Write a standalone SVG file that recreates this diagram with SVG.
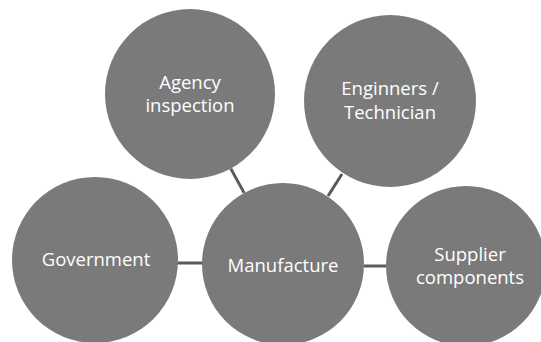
<svg xmlns="http://www.w3.org/2000/svg" width="541" height="342" viewBox="0 0 541 342">
<style>
.n{fill:#7a7a7a}
.t{fill:#ffffff;font-family:"Open Sans","Liberation Sans",sans-serif;font-size:18.5px;text-anchor:middle}
.c{stroke:#5a5a5a;stroke-width:3;fill:none}
</style>
<rect width="541" height="342" fill="#ffffff"/>
<g id="connectors">
<line class="c" x1="230.8" y1="168.6" x2="244.1" y2="192.9"/>
<line class="c" x1="342" y1="174" x2="328" y2="196"/>
<line class="c" x1="177" y1="263" x2="203" y2="263"/>
<line class="c" x1="364" y1="266" x2="388" y2="266"/>
</g>
<g id="agency">
<circle class="n" cx="190" cy="94" r="85"/>
<text class="t" x="190" y="89">Agency</text>
<text class="t" x="190" y="112">inspection</text>
</g>
<g id="engineers">
<circle class="n" cx="390" cy="101" r="86"/>
<text class="t" x="390" y="95">Enginners /</text>
<text class="t" x="390" y="119">Technician</text>
</g>
<g id="government">
<circle class="n" cx="95" cy="260" r="83"/>
<text class="t" x="96" y="266">Government</text>
</g>
<g id="manufacture">
<circle class="n" cx="283" cy="264" r="81"/>
<text class="t" x="283" y="272">Manufacture</text>
</g>
<g id="supplier">
<circle class="n" cx="466" cy="266" r="80"/>
<text class="t" x="470" y="261">Supplier</text>
<text class="t" x="470" y="284">components</text>
</g>
</svg>
